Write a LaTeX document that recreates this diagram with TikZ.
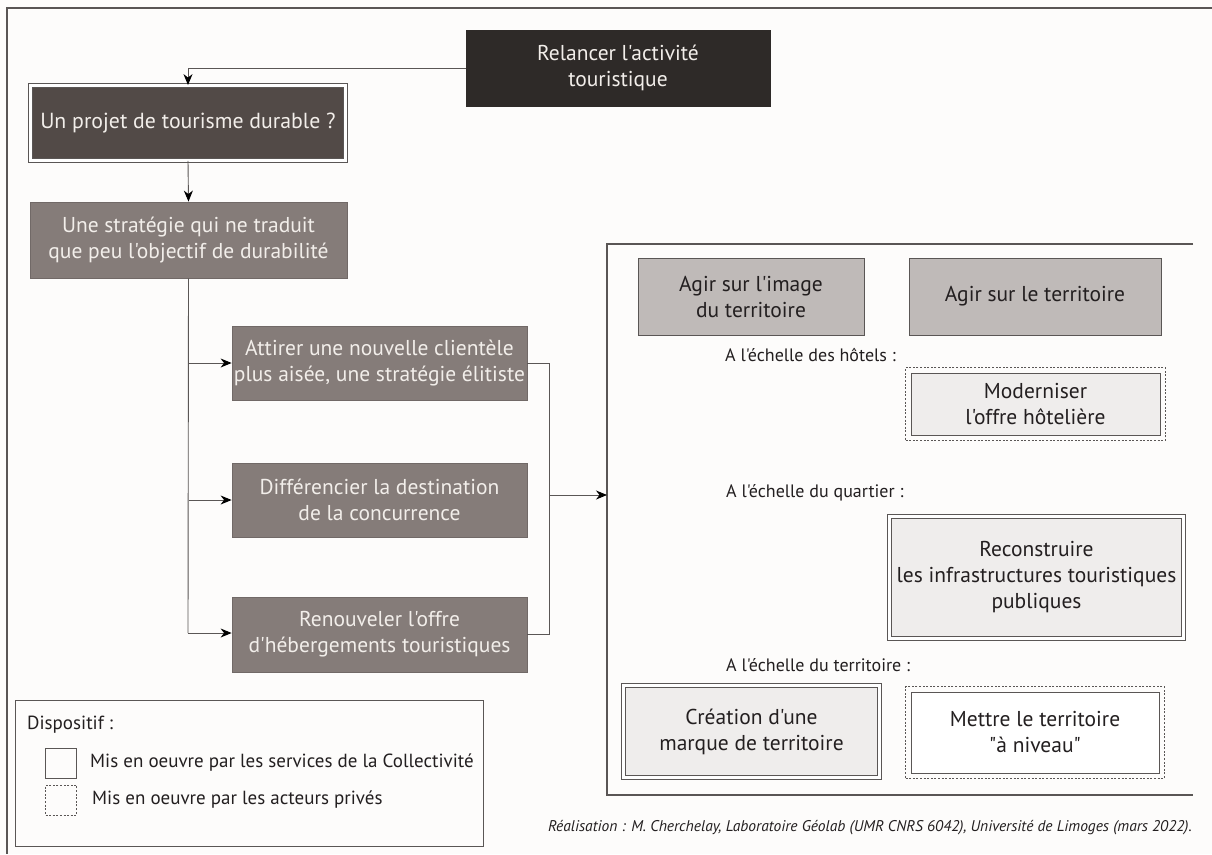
\documentclass[tikz,border=0pt]{standalone}
\usepackage{fontspec}
\setmainfont{PT Sans}[Ligatures=TeXOff]
\usetikzlibrary{arrows.meta,fit,calc}
\definecolor{bg}{HTML}{FDFCFB}
\definecolor{cA}{HTML}{2E2A28}
\definecolor{cB}{HTML}{524A47}
\definecolor{cC}{HTML}{857C79}
\definecolor{cD}{HTML}{BFBAB8}
\definecolor{cE}{HTML}{EFEDEC}
\definecolor{ln}{HTML}{5A5655}
\definecolor{txtw}{HTML}{F2EEEA}
\definecolor{txtd}{HTML}{231F20}
\tikzset{
  box/.style={rectangle, align=center, inner sep=0pt, font=\fontsize{21.5}{26}\selectfont, line width=0.8pt},
  darkbox/.style={box, fill=cA, draw=cA, text=txtw},
  midbox/.style={box, fill=cB, text=txtw, draw=ln, double=white, double distance=3.5pt, font=\fontsize{21.8}{26}\selectfont},
  greybox/.style={box, fill=cC, draw=cC!85!black, text=txtw},
  lightbox/.style={box, fill=cD, draw=ln, text=txtd},
  palebox/.style={box, fill=cE, draw=ln, text=txtd},
  dblbox/.style={box, fill=cE, draw=ln, text=txtd, double=white, double distance=3.5pt},
  dashframe/.style={draw=ln, line width=0.9pt, dash pattern=on 2pt off 1.6pt, inner sep=5pt},
  conn/.style={draw=ln, line width=0.9pt},
  arr/.style={conn, -{Stealth[length=11pt,width=9pt,inset=3.5pt,color=black]}},
  lbl/.style={font=\fontsize{18}{22}\selectfont, text=txtd, inner sep=0pt},
  legtxt/.style={font=\fontsize{19}{22}\selectfont, text=txtd, inner sep=0pt},
  frame/.style={draw=ln, line width=1.1pt},
}
\begin{document}
\begin{tikzpicture}[x=1pt,y=-1pt]
\fill[bg] (0,0) rectangle (1212,854);
\useasboundingbox (0,0) rectangle (1212,854);
% outer frame
\draw[frame] (1212,8) -- (7,8) -- (7,854);
% right panel
\draw[frame] (1193,244) -- (607,244) -- (607,795) -- (1193,795);
\coordinate (panelin) at (607,495);

% left column
\node[darkbox, minimum width=304pt, minimum height=76pt] (relancer) at (618,68) {Relancer l'activité\\touristique};
\node[midbox, minimum width=315pt, minimum height=75pt] (projet) at (188,123) {Un projet de tourisme durable ?};
\node[greybox, minimum width=317pt, minimum height=76pt] (strat) at (188.5,240) {Une stratégie qui ne traduit\\que peu l'objectif de durabilité};
\node[greybox, minimum width=295pt, minimum height=74pt] (attirer) at (379.5,363) {Attirer une nouvelle clientèle\\plus aisée, une stratégie élitiste};
\node[greybox, minimum width=295pt, minimum height=74pt] (diff) at (379.5,500) {Différencier la destination\\de la concurrence};
\node[greybox, minimum width=295pt, minimum height=75pt] (renouv) at (379.5,634.5) {Renouveler l'offre\\d'hébergements touristiques};

% right panel boxes
\node[lightbox, minimum width=226pt, minimum height=77pt] (image) at (751,296.5) {Agir sur l'image\\du territoire};
\node[lightbox, minimum width=252pt, minimum height=77pt] (terr) at (1035,296.5) {Agir sur le territoire};
\node[lbl, anchor=west] (lhot) at (725,355) {A l'échelle des hôtels :};
\node[palebox, minimum width=249pt, minimum height=62pt] (moder) at (1035.5,404) {Moderniser\\l'offre hôtelière};
\node[dashframe, fit=(moder)] (moderf) {};
\node[lbl, anchor=west] (lquart) at (726,493) {A l'échelle du quartier :};
\node[dblbox, minimum width=294pt, minimum height=122pt] (recon) at (1036.5,577.5) {Reconstruire\\les infrastructures touristiques\\publiques};
\node[lbl, anchor=west] (lterr) at (726,665) {A l'échelle du territoire :};
\node[dblbox, minimum width=256pt, minimum height=92pt] (creat) at (751.5,731.5) {Création d'une\\marque de territoire};
\node[box, fill=white, draw=ln, text=txtd, minimum width=248pt, minimum height=81pt] (mettre) at (1035,732.5) {Mettre le territoire\\"à niveau"};
\node[dashframe, fit=(mettre)] (mettref) {};

% connectors
\draw[arr] (relancer.west) -| (projet.north);
\draw[arr] (projet.south) -- (strat.north);
\coordinate (trunk) at (188,633);
\draw[conn] (strat.south) -- (trunk);
\draw[arr] (strat.south |- attirer.west) -- (attirer.west);
\draw[arr] (strat.south |- diff.west) -- (diff.west);
\draw[arr] (trunk) -- (renouv.west |- trunk);
\coordinate (bus) at (549,495);
\draw[conn] (attirer.east) -| (bus);
\draw[conn] (renouv.east) -| (bus);
\draw[arr] (bus) -- (panelin);

% legend
\node[draw=ln, line width=0.9pt, minimum width=468pt, minimum height=146pt, inner sep=0pt] (legend) at (249,773) {};
\node[legtxt, anchor=west] (ltitle) at (27,725) {Dispositif :};
\node[draw=ln, line width=0.9pt, minimum width=31pt, minimum height=30pt, inner sep=0pt] (lsq1) at (61,763) {};
\node[legtxt, anchor=west] (lt1) at (90,763) {Mis en oeuvre par les services de la Collectivité};
\node[draw=ln, line width=0.9pt, dash pattern=on 2pt off 1.6pt, minimum width=31pt, minimum height=30pt, inner sep=0pt] (lsq2) at (61,800) {};
\node[legtxt, anchor=west] (lt2) at (92,800) {Mis en oeuvre par les acteurs privés};

% credit
\node[anchor=east, font=\itshape\fontsize{15.5}{18}\selectfont, text=txtd, inner sep=0pt] (credit) at (1192,828) {Réalisation : M. Cherchelay, Laboratoire Géolab (UMR CNRS 6042), Université de Limoges (mars 2022).};
\end{tikzpicture}
\end{document}
